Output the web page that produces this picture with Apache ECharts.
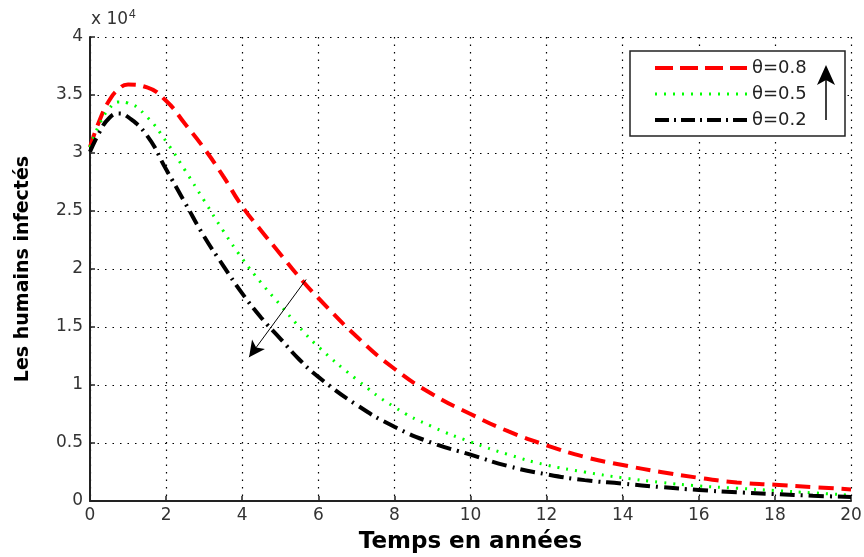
<!DOCTYPE html>
<html>
<head>
<meta charset="utf-8">
<script src="https://cdn.jsdelivr.net/npm/echarts@6/dist/echarts.min.js"></script>
<style>
  html, body { margin: 0; padding: 0; background: #fff; }
  #chart { width: 864px; height: 557px; }
</style>
</head>
<body>
<div id="chart"></div>
<script>
// temps en années
var temps = [0, 0.25, 0.5, 0.75, 1, 1.5, 2, 2.5, 3, 3.5, 4, 4.5, 5, 5.5, 6, 7, 8, 9, 10, 11, 12, 13, 14, 15, 16, 17, 18, 19, 20];
// humains infectés (en unités de 10^4)
var theta08 = [3.05, 3.28, 3.45, 3.55, 3.59, 3.565, 3.45, 3.25, 3.04, 2.80, 2.54, 2.33, 2.13, 1.93, 1.75, 1.42, 1.14, 0.92, 0.75, 0.60, 0.48, 0.38, 0.31, 0.25, 0.20, 0.16, 0.14, 0.12, 0.10];
var theta05 = [3.05, 3.25, 3.38, 3.44, 3.43, 3.31, 3.10, 2.85, 2.59, 2.33, 2.09, 1.88, 1.69, 1.50, 1.33, 1.05, 0.81, 0.64, 0.51, 0.40, 0.31, 0.25, 0.20, 0.16, 0.13, 0.11, 0.09, 0.07, 0.05];
var theta02 = [3.01, 3.18, 3.30, 3.34, 3.31, 3.15, 2.86, 2.57, 2.28, 2.03, 1.79, 1.58, 1.40, 1.22, 1.07, 0.83, 0.64, 0.50, 0.40, 0.30, 0.23, 0.18, 0.15, 0.12, 0.095, 0.075, 0.06, 0.045, 0.035];
var noms = ['θ=0.8', 'θ=0.5', 'θ=0.2'];

function pts(vals) {
  var out = [];
  for (var i = 0; i < temps.length; i++) {
    out.push([temps[i], vals[i] * 10000]);
  }
  return out;
}

var chart = echarts.init(document.getElementById('chart'));
var font = 'DejaVu Sans, Liberation Sans, sans-serif';
var grille = { show: true, lineStyle: { type: [1.5, 6], color: '#000', width: 1.2 } };

var option = {
  animation: false,
  grid: { left: 90, right: 13, top: 37, bottom: 56, outerBoundsMode: 'none', containLabel: false },
  xAxis: {
    type: 'value',
    min: 0, max: 20, interval: 2,
    name: 'Temps en années',
    nameLocation: 'middle',
    nameGap: 30,
    nameTextStyle: { fontFamily: font, fontSize: 23, fontWeight: 'bold', color: '#000' },
    axisLine: { lineStyle: { color: '#222', width: 2 } },
    axisTick: { inside: true, length: 5, lineStyle: { color: '#222', width: 1.5 } },
    axisLabel: { fontFamily: font, fontSize: 17, color: '#333', margin: 6 },
    splitLine: grille
  },
  yAxis: {
    type: 'value',
    min: 0, max: 40000, interval: 5000,
    name: 'Les humains infectés',
    nameLocation: 'middle',
    nameGap: 57,
    nameTextStyle: { fontFamily: font, fontSize: 19, fontWeight: 'bold', color: '#000' },
    axisLine: { show: true, lineStyle: { color: '#222', width: 2 } },
    axisTick: { show: true, inside: true, length: 5, lineStyle: { color: '#222', width: 1.5 } },
    axisLabel: {
      fontFamily: font, fontSize: 17, color: '#333', margin: 7,
      formatter: function (v) { return String(v / 10000); }
    },
    splitLine: grille
  },
  legend: {
    orient: 'vertical',
    left: 653, top: 58,
    padding: 0,
    itemWidth: 92, itemHeight: 14, itemGap: 6,
    z: 6,
    itemStyle: { opacity: 0 },
    textStyle: { fontFamily: font, fontSize: 18, lineHeight: 20, color: '#222' },
    data: [
      { name: noms[0], lineStyle: { width: 4, type: [18, 7] } },
      { name: noms[1], lineStyle: { width: 3, type: [2, 7] } },
      { name: noms[2], lineStyle: { width: 4, type: [14, 5, 2, 5] } }
    ]
  },
  graphic: [
    {
      type: 'rect', z: 5,
      shape: { x: 630, y: 51, width: 215, height: 85 },
      style: { fill: '#fff', stroke: '#222', lineWidth: 1.5 }
    },
    {
      type: 'line', z: 6,
      shape: { x1: 826, y1: 120, x2: 826, y2: 74 },
      style: { stroke: '#000', lineWidth: 1.5 }
    },
    {
      type: 'polygon', z: 6,
      shape: { points: [[826, 65], [817, 85], [826, 80], [835, 85]] },
      style: { fill: '#000' }
    },
    {
      type: 'text', left: 91, top: 9,
      style: {
        text: 'x 10{s|4}',
        font: '17px ' + font,
        fill: '#333',
        rich: { s: { fontSize: 12, verticalAlign: 'top', padding: [0, 0, 9, 1] } }
      }
    }
  ],
  series: [
    {
      name: noms[0], type: 'line', smooth: 0.5, symbol: 'none',
      lineStyle: { color: '#ff0000', width: 4, type: [15, 8] },
      itemStyle: { color: '#ff0000' },
      data: pts(theta08),
      markLine: {
        silent: true,
        symbol: ['none', 'arrow'],
        symbolSize: [12, 16],
        label: { show: false },
        lineStyle: { color: '#000', width: 1, type: 'solid' },
        data: [[{ coord: [5.68, 19100] }, { coord: [4.18, 12400] }]]
      }
    },
    {
      name: noms[1], type: 'line', smooth: 0.5, symbol: 'none',
      lineStyle: { color: '#00ff00', width: 3, type: [2, 7] },
      itemStyle: { color: '#00ff00' },
      data: pts(theta05)
    },
    {
      name: noms[2], type: 'line', smooth: 0.5, symbol: 'none',
      lineStyle: { color: '#000', width: 4, type: [15, 6, 2, 6] },
      itemStyle: { color: '#000' },
      data: pts(theta02)
    }
  ]
};

chart.setOption(option);
</script>
</body>
</html>
